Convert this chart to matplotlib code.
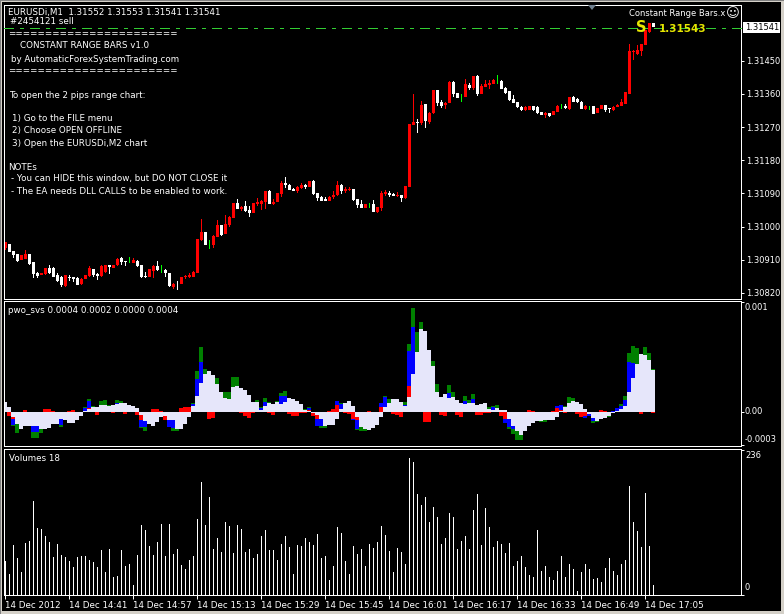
import matplotlib
matplotlib.use('Agg')
import matplotlib.pyplot as plt
import numpy as np

plt.rcParams['font.family'] = ['DejaVu Sans']
FS = 6.3

# candle values, points above 1.30000
opens = [941,953,933,925,909,911,926,903,875,868,
         871,887,889,869,862,839,864,862,860,844,
         857,866,884,871,866,878,895,888,895,914,
         907,903,900,907,895,866,864,880,894,882,
         882,873,837,845,844,862,864,864,873,964,
         984,952,950,971,1004,980,1004,1024,1063,1047,
         1056,1045,1038,1061,1062,1068,1096,1061,1067,1088,
         1119,1113,1103,1096,1105,1113,1107,1124,1091,1080,
         1075,1069,1080,1086,1113,1096,1099,1102,1075,1061,
         1050,1059,1061,1040,1050,1088,1091,1088,1083,1086,
         1078,1107,1276,1284,1280,1332,1284,1308,1370,1338,
         1330,1335,1392,1362,1351,1351,1384,1376,1408,1360,
         1379,1384,1387,1395,1395,1376,1368,1346,1338,1324,
         1316,1316,1327,1324,1311,1303,1308,1303,1311,1327,
         1327,1319,1351,1345,1338,1319,1327,1327,1308,1319,
         1330,1322,1316,1324,1327,1332,1360,1474,1468,1476,
         1492,1528,1552]
highs = [959,953,935,927,923,936,926,905,878,875,
         889,896,891,873,866,869,868,864,862,860,
         869,894,886,875,895,896,895,895,914,917,
         907,917,916,909,896,877,884,896,908,896,
         885,875,848,853,862,868,873,879,966,1020,
         984,964,977,1018,1004,1031,1029,1063,1074,1056,
         1069,1056,1063,1078,1072,1096,1099,1074,1090,1124,
         1134,1115,1105,1110,1118,1115,1124,1126,1091,1083,
         1080,1083,1096,1124,1115,1107,1107,1102,1075,1072,
         1061,1064,1072,1053,1096,1099,1096,1091,1094,1086,
         1110,1278,1360,1292,1341,1332,1311,1370,1370,1343,
         1338,1395,1395,1362,1360,1400,1389,1408,1411,1387,
         1398,1398,1400,1411,1398,1379,1368,1357,1338,1327,
         1327,1327,1327,1327,1311,1311,1308,1313,1330,1332,
         1332,1351,1354,1348,1341,1330,1327,1327,1322,1330,
         1330,1322,1327,1332,1346,1365,1495,1479,1492,1495,
         1533,1553,1553]
lows = [936,932,914,905,909,911,896,861,860,868,
        868,871,864,851,835,835,853,851,841,842,
        857,864,864,855,864,875,871,888,893,896,
        894,900,900,891,860,860,864,860,880,873,
        864,837,832,828,844,859,861,862,873,962,
        950,940,941,971,974,980,998,1024,1047,1043,
        1040,1027,1038,1056,1045,1048,1061,1058,1067,1081,
        1105,1099,1096,1091,1102,1102,1107,1086,1069,1069,
        1069,1069,1075,1083,1088,1091,1096,1069,1050,1050,
        1050,1050,1040,1037,1042,1083,1080,1083,1080,1067,
        1075,1107,1276,1254,1276,1267,1278,1305,1327,1322,
        1319,1335,1351,1349,1338,1351,1370,1370,1354,1360,
        1379,1373,1387,1387,1373,1360,1341,1335,1322,1313,
        1313,1316,1313,1305,1303,1294,1297,1303,1311,1319,
        1319,1316,1338,1335,1319,1316,1316,1305,1308,1319,
        1311,1308,1313,1324,1327,1332,1360,1452,1465,1463,
        1492,1524,1541]
closes = [957,932,923,908,923,925,899,871,866,875,
          887,873,864,853,842,869,860,857,842,859,
          869,887,868,866,893,896,891,895,911,905,
          904,903,909,893,864,862,884,894,882,882,
          873,839,844,843,862,866,868,877,966,984,
          950,952,974,1004,978,1007,1025,1063,1049,1054,
          1043,1036,1063,1068,1069,1096,1061,1068,1090,1118,
          1113,1099,1096,1107,1113,1107,1124,1088,1078,1069,
          1069,1080,1086,1113,1096,1102,1102,1072,1059,1050,
          1061,1059,1040,1053,1091,1094,1086,1083,1086,1078,
          1110,1278,1284,1281,1330,1286,1308,1370,1335,1327,
          1335,1392,1360,1349,1351,1387,1376,1408,1360,1381,
          1387,1389,1398,1395,1373,1362,1343,1335,1324,1316,
          1324,1327,1316,1308,1303,1308,1300,1313,1327,1327,
          1322,1351,1338,1338,1319,1327,1327,1305,1322,1330,
          1316,1319,1324,1330,1338,1365,1476,1476,1479,1495,
          1533,1551,1541]

# pwo_svs buffers, in 0.00001
pwo_white = [10,5,-5,-12,-17,-14,-14,-14,-14,-17,
             -17,-16,-12,-12,-7,-8,-11,-11,-8,-4,
             1,3,5,5,7,7,6,7,8,9,
             9,7,6,4,-3,-9,-12,-14,-10,-5,
             -4,-8,-8,-17,-17,-12,-5,6,16,29,
             38,41,37,28,20,14,13,25,26,24,
             22,17,10,10,2,6,9,8,10,8,
             10,14,13,11,8,2,1,-1,-3,-7,
             -14,-13,-13,-7,3,9,11,6,-5,-15,
             -17,-18,-16,-13,-5,5,9,13,13,10,
             6,15,38,60,83,81,62,46,20,15,
             18,14,15,12,9,8,9,9,7,8,
             9,3,2,4,2,2,-7,-14,-19,-23,
             -19,-14,-11,-9,-9,-8,-8,-8,-5,1,
             5,9,11,10,8,3,-2,-6,-9,-7,
             -6,-4,-1,1,3,6,20,34,48,58,
             57,52,42]
pwo_red = [0,-4,-7,0,0,2,0,0,0,0,
           3,3,1,0,-6,0,1,2,0,0,
           1,4,0,-3,0,0,0,-1,0,0,
           -2,0,0,-3,-8,0,0,3,3,1,
           -8,-8,0,0,4,5,5,0,0,0,
           0,-7,-6,0,1,0,0,0,0,-1,
           -4,-6,-1,0,0,0,-1,-3,0,0,
           0,-2,-4,-4,-1,-1,2,-4,-7,0,
           0,1,3,7,0,-1,-2,-7,-8,0,
           0,1,0,0,5,4,0,-2,-3,-5,
           0,26,0,0,0,-10,-10,0,0,-3,
           -4,0,0,-3,-5,0,0,0,-3,-3,
           -1,-1,0,0,-4,-7,-7,0,0,0,
           0,2,1,0,0,0,0,1,4,2,
           -1,0,0,-2,-5,-4,-2,0,0,2,
           1,0,0,1,0,0,20,0,0,-2,
           0,0,-1]
pwo_blue = [0,0,-13,-12,0,0,0,-20,-20,0,
            0,0,0,-10,-13,0,0,0,0,0,
            4,11,0,0,0,0,0,0,9,0,
            0,0,0,0,-15,-15,0,0,0,0,
            -6,-15,-16,0,0,0,0,8,33,50,
            0,0,0,0,0,14,0,24,0,0,
            0,0,0,9,4,10,0,0,0,16,
            16,0,0,0,0,0,4,-4,-14,-14,
            0,0,0,11,8,0,0,-8,-17,-10,
            0,0,0,0,9,15,0,0,0,0,
            7,61,85,0,0,0,0,0,0,0,
            0,19,0,0,0,11,0,13,0,0,
            0,0,5,0,0,-11,-15,-17,0,0,
            0,0,0,0,-8,-7,0,0,6,7,
            0,0,0,0,0,-6,-4,-9,0,0,
            0,-3,1,4,6,12,50,49,0,0,
            0,0,0]
pwo_green = [0,0,-14,-21,0,0,-14,-26,-26,-21,
             0,0,0,-12,-15,0,0,0,-8,0,
             5,13,6,0,11,12,7,0,12,11,
             0,0,0,0,-16,-19,0,0,0,0,
             0,0,-19,-19,0,0,0,9,41,65,
             43,0,0,34,0,20,20,35,35,0,
             0,0,0,12,5,14,10,0,11,19,
             21,0,0,0,0,3,5,0,0,-16,
             -16,0,0,0,9,0,0,0,-18,-19,
             -19,0,0,0,0,16,13,0,0,0,
             10,68,104,80,90,0,0,51,28,0,
             0,27,20,0,0,16,12,18,0,0,
             0,5,6,7,0,0,-17,-22,-28,-28,
             0,0,0,0,-10,-10,-8,0,0,0,
             6,15,14,0,0,0,-3,-11,-10,0,
             0,-5,0,0,8,16,59,66,64,0,
             65,59,43]

volumes = [59,36,86,64,40,90,93,162,115,114,102,91,65,88,69,65,
           59,48,65,67,67,60,57,48,77,40,79,31,33,77,50,53,
           17,69,121,112,84,69,91,122,67,122,71,79,52,45,60,67,
           131,195,121,169,79,98,74,126,119,72,121,114,74,79,64,71,
           102,112,77,77,60,88,102,83,36,86,84,98,91,86,105,64,
           67,26,50,117,107,59,36,84,71,79,50,88,81,91,119,103,
           76,40,81,74,53,236,229,174,155,169,126,152,134,88,98,141,
           134,79,93,102,79,146,174,86,150,117,83,93,88,72,90,50,59,
           67,48,34,31,112,41,50,31,26,41,67,31,53,45,7,40,
           53,45,28,29,22,46,64,41,34,53,60,188,126,110,83,176,84,18]

date_labels = ['14 Dec 2012', '14 Dec 14:41', '14 Dec 14:57', '14 Dec 15:13',
               '14 Dec 15:29', '14 Dec 15:45', '14 Dec 16:01', '14 Dec 16:17',
               '14 Dec 16:33', '14 Dec 16:49', '14 Dec 17:05']
price_ticks = [1450, 1360, 1270, 1180, 1090, 1000, 910, 820]

W, H = 784, 614
PX = 0.72  # one pixel in points at dpi 100
idx = np.arange(len(closes))
o = np.array(opens)
h = np.array(highs)
l = np.array(lows)
c = np.array(closes)

fig = plt.figure(figsize=(W / 100, H / 100), dpi=100, facecolor='#d4d0c8')


# whole pixel edges so the 1px lines never sit on a snapping boundary
def pane(top, bottom):
    ax = fig.add_axes([4 / W, 1 - bottom / H, 737 / W, (bottom - top) / H], facecolor='black', zorder=2)
    ax.set_xlim(-0.25, 184)
    for s in ax.spines.values():
        s.set_color('white')
        s.set_linewidth(PX)
    ax.yaxis.tick_right()
    ax.tick_params(colors='white', width=PX, length=3 * PX, labelsize=6.0, pad=1.5)
    ax.set_xticks([])
    return ax


# background, frame and text layer
bg = fig.add_axes([0, 0, 1, 1], zorder=1)
bg.set_xlim(0, W)
bg.set_ylim(H, 0)
bg.axis('off')
bg.fill_between([0, W], 0, H, color='#808080', lw=0)
bg.fill_between([1, W], 1, H, color='#d4d0c8', lw=0)
bg.fill_between([2, 781], 2, 611, color='black', lw=0)

# wicks and volume sticks are one pixel wide bars, a quarter of the 4px bar step
STICK = 0.25
BODY = 0.75

# candles
ax1 = pane(5, 299)
ax1.set_ylim(803.6, 1601.1)
colors = np.where(c > o, 'red', np.where(c < o, 'white', 'lime'))
ax1.bar(idx + STICK / 2, h - l, bottom=l, width=STICK, color=colors, lw=0, antialiased=False)
tall = c != o
ax1.bar(idx[tall] + 0.125, np.abs(c - o)[tall], bottom=np.minimum(o, c)[tall], width=BODY,
        color=colors[tall], lw=0, antialiased=False)
ax1.set_yticks(price_ticks)
ax1.set_yticklabels(['1.3%04d' % p for p in price_ticks])

# pwo_svs, buffers drawn on top of each other
ax2 = pane(301, 446)
ax2.set_ylim(-34, 111)
for vals, col in [(pwo_green, '#008000'), (pwo_blue, '#0000ff'), (pwo_red, '#ff0000'), (pwo_white, '#e6e6fa')]:
    ax2.bar(idx, vals, width=1.0, color=col, lw=0, antialiased=False)
ax2.set_yticks([110, 0, -33])
ax2.set_yticklabels([])

# volumes
ax3 = pane(449, 595)
ax3.set_ylim(0, 251.5)
ax3.bar(idx + STICK / 2, volumes, width=STICK, color='white', lw=0, antialiased=False)
ax3.set_yticks([250, 0])
ax3.set_yticklabels([])
ax3.set_xticks(idx[::16])
ax3.set_xticklabels(date_labels, ha='left', fontsize=FS, color='white')
ax3.tick_params(axis='x', length=4 * PX, pad=1.5)

# overlay for the terminal's own labels
ov = fig.add_axes([0, 0, 1, 1], zorder=3, facecolor='none')
ov.set_xlim(0, W)
ov.set_ylim(H, 0)
ov.axis('off')


def txt(x, y, s, **kw):
    kw.setdefault('color', 'white')
    kw.setdefault('fontsize', FS)
    ov.text(x, y, s, va='center', **kw)


txt(8, 12.5, 'EURUSDi,M1  1.31552 1.31553 1.31541 1.31541')
txt(10, 22, '#2454121 sell')
notes = [(8.5, 34, '======================='),
         (20.5, 46, 'CONSTANT RANGE BARS v1.0'),
         (11.5, 59, 'by AutomaticForexSystemTrading.com'),
         (8.5, 71, '======================='),
         (9, 95, 'To open the 2 pips range chart:'),
         (12, 119, '1) Go to the FILE menu'),
         (12, 131, '2) Choose OPEN OFFLINE'),
         (12, 143, '3) Open the EURUSDi,M2 chart'),
         (8.5, 167, 'NOTEs'),
         (11, 179, '- You can HIDE this window, but DO NOT CLOSE it'),
         (11, 191, '- The EA needs DLL CALLS to be enabled to work.')]
for x, y, s in notes:
    txt(x, y, s)
txt(629, 14, 'Constant Range Bars.x', fontsize=6.0)
txt(725.5, 14, '\u263a', fontsize=9.5)
txt(8, 310.5, 'pwo_svs 0.0004 0.0002 0.0000 0.0004')
txt(9, 458.5, 'Volumes 18')
txt(745, 308, '0.001', fontsize=6.0)
txt(745, 411.5, '0.00', fontsize=6.0)
txt(745, 439, '-0.0003', fontsize=6.0)
txt(745, 455.5, '236', fontsize=6.0)
txt(745, 587.5, '0', fontsize=6.0)

# sell arrow and price, current price line
txt(636, 27.5, 'S', color='#e6e600', fontsize=10.5, fontweight='bold')
txt(659, 28.5, '1.31543', color='#e6e600', fontsize=7.5, fontweight='bold')
ov.plot([4, 741], [28, 28], color='#32cd32', lw=PX, ls=(0, (10, 6, 3, 6)), antialiased=False)
ov.fill([588, 596, 592], [5, 5, 10], color='#708090', lw=0)
ov.fill([5, 9, 9], [589, 594, 594], color='#708090', lw=0)
ov.fill_between([743, 780], 21.5, 33, color='white', lw=0)
txt(745, 27.5, '1.31541', color='black', fontsize=6.0)

fig.savefig('out.png', dpi=100, facecolor=fig.get_facecolor())
